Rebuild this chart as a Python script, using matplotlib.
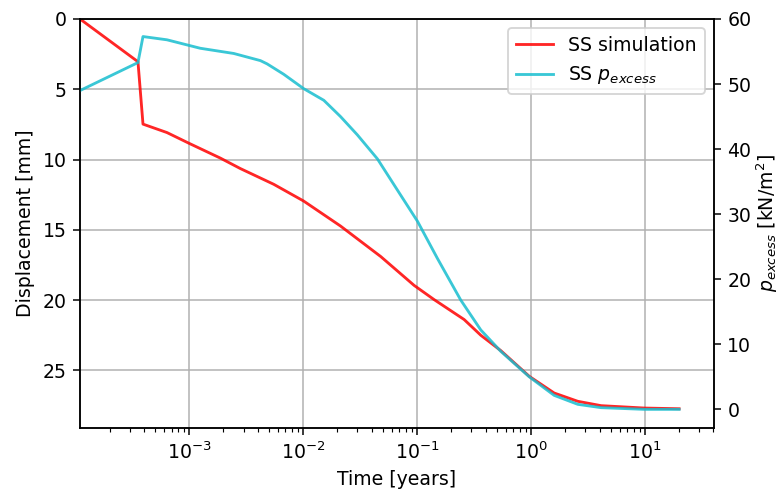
import matplotlib
matplotlib.use("Agg")
import matplotlib.pyplot as plt

# Time [years]
t_sim = [1.10e-4, 3.55e-4, 3.93e-4, 6.38e-4, 1.00e-3, 1.88e-3, 2.81e-3, 5.52e-3, 1.01e-2,
         2.13e-2, 4.80e-2, 9.42e-2, 0.141, 0.259, 0.363, 0.545, 0.966, 1.60,
         2.58, 4.13, 9.91, 20.0]
# Displacement [mm]
disp_sim = [0.0, 3.04, 7.48, 8.08, 8.85, 9.9, 10.64, 11.76, 12.95, 14.73, 16.9,
            18.95, 19.96, 21.38, 22.5, 23.6, 25.42, 26.61, 27.2, 27.51, 27.68, 27.73]

t_p = [1.10e-4, 3.55e-4, 3.93e-4, 6.38e-4, 1.25e-3, 2.46e-3, 4.22e-3, 4.83e-3,
       6.76e-3, 1.01e-2, 1.52e-2, 2.13e-2, 2.99e-2, 4.49e-2, 6.73e-2, 0.101,
       0.151, 0.242, 0.363, 0.545, 0.966, 1.60, 2.58, 4.13, 9.91, 20.0]
# Excess pore pressure [kN/m2]
p_excess = [49.0, 53.3, 57.3, 56.8, 55.5, 54.7, 53.6, 53.1, 51.5, 49.3, 47.5,
            45.0, 42.2, 38.5, 33.7, 28.9, 23.2, 16.8, 12.2, 8.9, 5.0, 2.15,
            0.77, 0.26, 0.0, 0.0]

DPI = 136
fig = plt.figure(figsize=(779 / DPI, 497 / DPI), dpi=DPI)
ax1 = fig.add_axes([0.1027, 0.1388, 0.8139, 0.8230])
l1, = ax1.plot(t_sim, disp_sim, color="red", alpha=0.85, lw=1.5, label="SS simulation")
ax1.set_xscale("log")
ax1.set_xlim(1.10e-4, 40.5)
ax1.set_ylim(29.1, 0)
ax1.set_xlabel("Time [years]")
ax1.set_ylabel("Displacement [mm]")
ax1.grid(True, color="#b0b0b0", lw=0.8)

ax2 = ax1.twinx()
l2, = ax2.plot(t_p, p_excess, color="tab:cyan", alpha=0.85, lw=1.5, label="SS $p_{excess}$")
ax2.set_ylim(-2.87, 60)
ax2.set_ylabel("$p_{excess}$ [kN/m$^2$]", labelpad=1.5)
ax2.legend(handles=[l1, l2], loc="upper right")

fig.savefig("out.png", dpi=DPI)
